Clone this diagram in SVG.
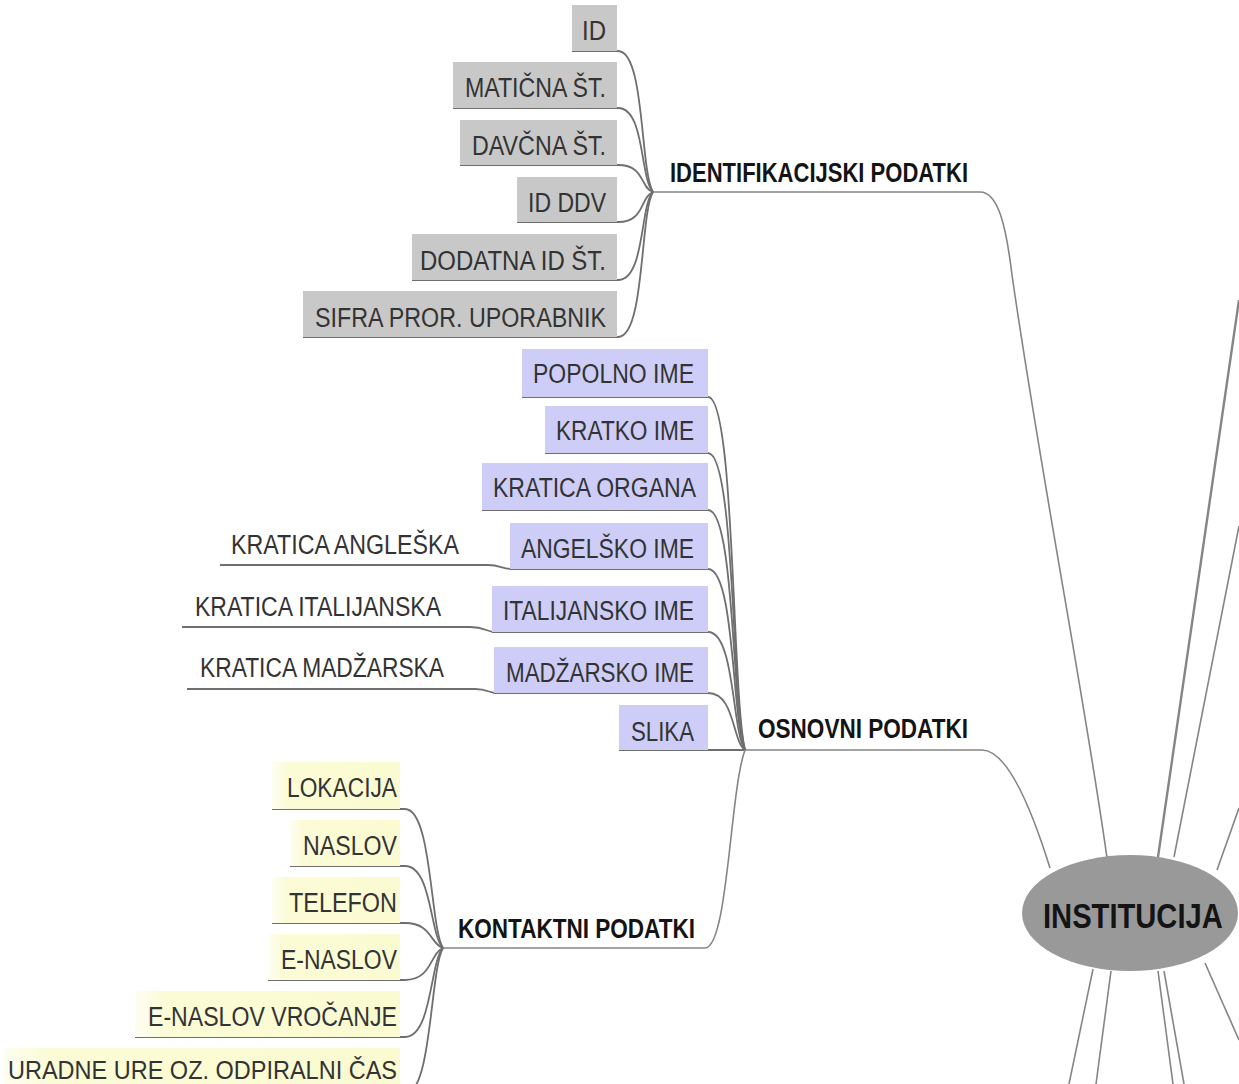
<svg xmlns="http://www.w3.org/2000/svg" width="1239" height="1084" viewBox="0 0 1239 1084">
<defs>
<linearGradient id="yel" x1="0" y1="0" x2="1" y2="0">
<stop offset="0" stop-color="#fefef2"/>
<stop offset="0.12" stop-color="#fbfbd6"/>
<stop offset="1" stop-color="#fbfbd2"/>
</linearGradient>
<style>
.lbl{font-family:"Liberation Sans",Arial,sans-serif;font-size:27px;fill:#333;}
.cat{font-family:"Liberation Sans",Arial,sans-serif;font-size:27px;font-weight:bold;fill:#141414;}
.root{font-family:"Liberation Sans",Arial,sans-serif;font-size:35px;font-weight:bold;fill:#141414;}
.gray{fill:#c8c8c8;}
.blue{fill:#cdcdf7;}
.yellow{fill:url(#yel);}
.c{fill:none;stroke:#858585;stroke-width:1.6;}
.u{fill:none;stroke:#6f6f6f;stroke-width:1.8;}
</style>
</defs>
<rect width="1239" height="1084" fill="#ffffff"/>

<g id="connectors">
<path class="c" d="M1239 300 L1158 857" style="stroke-width:2.4"/>
<path class="c" d="M1239 526 L1174 857"/>
<path class="c" d="M1239 808 L1217 870"/>
<path class="c" d="M1093 969 L1069 1084"/>
<path class="c" d="M1111 971 L1096 1084"/>
<path class="c" d="M1158 971 L1173 1084"/>
<path class="c" d="M1164 971 L1184 1084"/>
<path class="c" d="M1205 963 L1239 1040"/>
<path class="c" d="M653 192 H980 C998 192 1006 225 1012 275 C1040 470 1085 700 1107 858"/>
<path class="u" d="M572 51 H618 C645 51 640 171 653 192"/>
<path class="u" d="M453 108 H618 C645 108 640 179 653 192"/>
<path class="u" d="M460 165 H618 C645 165 640 188 653 192"/>
<path class="u" d="M517 222 H618 C645 222 640 197 653 192"/>
<path class="u" d="M412 280 H618 C645 280 640 205 653 192"/>
<path class="u" d="M303 337 H618 C645 337 640 213 653 192"/>
<path class="c" d="M745 750 H982 C1010 750 1035 820 1050 868"/>
<path class="u" d="M522 397 H708 C735 397 732 697 745 750"/>
<path class="u" d="M545 453 H708 C735 453 732 705 745 750"/>
<path class="u" d="M482 510 H708 C735 510 732 714 745 750"/>
<path class="u" d="M510 569 H708 C735 569 732 723 745 750"/>
<path class="u" d="M492 632 H708 C735 632 732 732 745 750"/>
<path class="u" d="M494 693 H708 C735 693 732 741 745 750"/>
<path class="u" d="M619 750 H745"/>
<path class="u" d="M220 565 H488 C500 565 502 569 512 569"/>
<path class="u" d="M182 627 H470 C484 627 488 632 494 632"/>
<path class="u" d="M187 689 H475 C487 689 490 693 496 693"/>
<path class="c" d="M443 948 H705 C728 948 730 790 745 750"/>
<path class="u" d="M272 809 H405 C432 809 430 927 443 948"/>
<path class="u" d="M290 866 H405 C432 866 430 936 443 948"/>
<path class="u" d="M272 923 H405 C432 923 430 944 443 948"/>
<path class="u" d="M268 980 H405 C432 980 430 953 443 948"/>
<path class="u" d="M135 1037 H405 C432 1037 430 961 443 948"/>
<path class="u" d="M3 1094 H405 C432 1094 430 970 443 948"/>
</g>

<g id="institucija">
<ellipse cx="1130" cy="913" rx="108" ry="58" fill="#999999"/>
<text class="root" transform="translate(1043 928) scale(0.833 1)" x="0" y="0">INSTITUCIJA</text>
</g>

<g id="identifikacijski-podatki">
<text class="cat" x="670" y="182" textLength="298" lengthAdjust="spacingAndGlyphs">IDENTIFIKACIJSKI PODATKI</text>
</g>
<g id="id"><rect class="gray" x="572" y="5" width="45" height="46"/><text class="lbl" x="582" y="40" textLength="24" lengthAdjust="spacingAndGlyphs">ID</text></g>
<g id="maticna"><rect class="gray" x="453" y="62" width="164" height="46"/><text class="lbl" x="465" y="97" textLength="141" lengthAdjust="spacingAndGlyphs">MATIČNA ŠT.</text></g>
<g id="davcna"><rect class="gray" x="460" y="120" width="157" height="45"/><text class="lbl" x="472" y="155" textLength="134" lengthAdjust="spacingAndGlyphs">DAVČNA ŠT.</text></g>
<g id="id-ddv"><rect class="gray" x="517" y="177" width="100" height="45"/><text class="lbl" x="528" y="212" textLength="78" lengthAdjust="spacingAndGlyphs">ID DDV</text></g>
<g id="dodatna"><rect class="gray" x="412" y="234" width="205" height="46"/><text class="lbl" x="420" y="270" textLength="186" lengthAdjust="spacingAndGlyphs">DODATNA ID ŠT.</text></g>
<g id="sifra"><rect class="gray" x="303" y="291" width="314" height="46"/><text class="lbl" x="315" y="327" textLength="291" lengthAdjust="spacingAndGlyphs">SIFRA PROR. UPORABNIK</text></g>

<g id="osnovni-podatki">
<text class="cat" x="758" y="738" textLength="210" lengthAdjust="spacingAndGlyphs">OSNOVNI PODATKI</text>
</g>
<g id="popolno"><rect class="blue" x="522" y="349" width="186" height="48"/><text class="lbl" x="533" y="383" textLength="161" lengthAdjust="spacingAndGlyphs">POPOLNO IME</text></g>
<g id="kratko"><rect class="blue" x="545" y="406" width="163" height="47"/><text class="lbl" x="556" y="440" textLength="138" lengthAdjust="spacingAndGlyphs">KRATKO IME</text></g>
<g id="kratica-organa"><rect class="blue" x="482" y="463" width="226" height="47"/><text class="lbl" x="493" y="497" textLength="203" lengthAdjust="spacingAndGlyphs">KRATICA ORGANA</text></g>
<g id="angelsko"><rect class="blue" x="510" y="523" width="198" height="46"/><text class="lbl" x="521" y="558" textLength="173" lengthAdjust="spacingAndGlyphs">ANGELŠKO IME</text></g>
<g id="italijansko"><rect class="blue" x="492" y="586" width="216" height="46"/><text class="lbl" x="503" y="620" textLength="191" lengthAdjust="spacingAndGlyphs">ITALIJANSKO IME</text></g>
<g id="madzarsko"><rect class="blue" x="494" y="647" width="214" height="46"/><text class="lbl" x="506" y="682" textLength="188" lengthAdjust="spacingAndGlyphs">MADŽARSKO IME</text></g>
<g id="slika"><rect class="blue" x="619" y="705" width="89" height="45"/><text class="lbl" x="631" y="741" textLength="63" lengthAdjust="spacingAndGlyphs">SLIKA</text></g>
<g id="kratica-angleska"><text class="lbl" x="231" y="554" textLength="228" lengthAdjust="spacingAndGlyphs">KRATICA ANGLEŠKA</text></g>
<g id="kratica-italijanska"><text class="lbl" x="195" y="616" textLength="246" lengthAdjust="spacingAndGlyphs">KRATICA ITALIJANSKA</text></g>
<g id="kratica-madzarska"><text class="lbl" x="200" y="677" textLength="244" lengthAdjust="spacingAndGlyphs">KRATICA MADŽARSKA</text></g>

<g id="kontaktni-podatki">
<text class="cat" x="458" y="938" textLength="237" lengthAdjust="spacingAndGlyphs">KONTAKTNI PODATKI</text>
</g>
<g id="lokacija"><rect class="yellow" x="272" y="762" width="128" height="47"/><text class="lbl" x="287" y="797" textLength="110" lengthAdjust="spacingAndGlyphs">LOKACIJA</text></g>
<g id="naslov"><rect class="yellow" x="290" y="820" width="110" height="46"/><text class="lbl" x="303" y="855" textLength="94" lengthAdjust="spacingAndGlyphs">NASLOV</text></g>
<g id="telefon"><rect class="yellow" x="272" y="877" width="128" height="46"/><text class="lbl" x="289" y="912" textLength="108" lengthAdjust="spacingAndGlyphs">TELEFON</text></g>
<g id="e-naslov"><rect class="yellow" x="268" y="934" width="132" height="46"/><text class="lbl" x="281" y="969" textLength="116" lengthAdjust="spacingAndGlyphs">E-NASLOV</text></g>
<g id="e-naslov-vrocanje"><rect class="yellow" x="135" y="991" width="265" height="46"/><text class="lbl" x="148" y="1026" textLength="249" lengthAdjust="spacingAndGlyphs">E-NASLOV VROČANJE</text></g>
<g id="uradne-ure"><rect class="yellow" x="3" y="1048" width="397" height="46"/><text class="lbl" x="8" y="1079" style="font-size:26px" textLength="389" lengthAdjust="spacingAndGlyphs">URADNE URE OZ. ODPIRALNI ČAS</text></g>
</svg>
